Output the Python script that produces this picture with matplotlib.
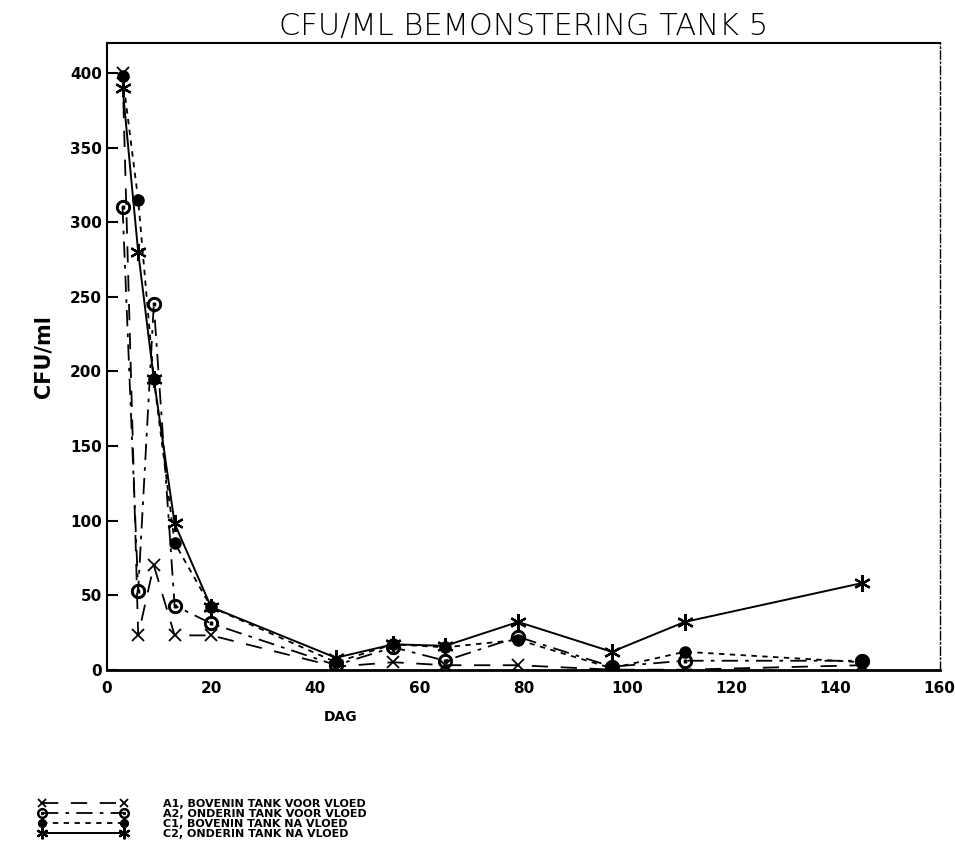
import matplotlib
matplotlib.use("Agg")
import matplotlib.pyplot as plt

# sampling days (DAG)
days = [3, 6, 9, 13, 20, 44, 55, 65, 79, 97, 111, 145]

# CFU/ml per sampling point
a1 = [400, 23, 70, 23, 23, 2, 5, 3, 3, 0, 0, 3]
a2 = [310, 53, 245, 43, 31, 3, 15, 6, 22, 2, 6, 6]
c1 = [398, 315, 195, 85, 42, 5, 17, 15, 20, 1, 12, 5]
c2 = [390, 280, 195, 98, 42, 8, 17, 16, 32, 12, 32, 58]

labels = ["A1, BOVENIN TANK VOOR VLOED",
          "A2, ONDERIN TANK VOOR VLOED",
          "C1, BOVENIN TANK NA VLOED",
          "C2, ONDERIN TANK NA VLOED"]

fig = plt.figure(figsize=(9.55, 8.63), dpi=100)
ax = fig.add_axes([0.112, 0.224, 0.872, 0.726])

ax.plot(days, a1, color="black", lw=1.3, ls=(0, (9, 7)), marker="x", ms=9, mew=1.3, label=labels[0])
ax.plot(days, a2, color="black", lw=1.3, ls=(0, (9, 4, 2, 4)), marker="$\\odot$", ms=10, label=labels[1])
ax.plot(days, c1, color="black", lw=1.3, ls=(0, (3, 3)), marker="o", ms=8, mfc="black", label=labels[2])
ax.plot(days, c2, color="black", lw=1.4, ls="-", marker=(6, 2, 0), ms=12, mew=1.6, label=labels[3])

ax.set_xlim(0, 160)
ax.set_ylim(0, 420)
ax.set_xticks(range(0, 161, 20))
ax.set_yticks(range(0, 401, 50))
ax.tick_params(axis="y", direction="in", length=8, width=1.5, labelsize=11)
ax.tick_params(axis="x", length=0, labelsize=11, pad=8)
for t in ax.get_xticklabels() + ax.get_yticklabels():
    t.set_fontweight("bold")

ax.spines["left"].set_linewidth(1.5)
ax.spines["bottom"].set_linewidth(2)
ax.spines["top"].set_linewidth(1.5)
ax.spines["right"].set_linewidth(1)
ax.spines["right"].set_linestyle((0, (6, 2, 1, 2)))

ax.set_title("CFU/ML BEMONSTERING TANK 5", fontsize=22, pad=6, x=0.5, fontweight="light")
ax.set_ylabel("CFU/ml", fontsize=15, fontweight="bold", labelpad=12)
ax.set_xlabel("DAG", fontsize=10, fontweight="bold", labelpad=22)
ax.xaxis.set_label_coords(0.28, -0.065)

handles, lbls = ax.get_legend_handles_labels()
leg = fig.legend(handles, lbls, loc="upper left", bbox_to_anchor=(0.03, 0.086),
                 frameon=False, handlelength=8.0, numpoints=2, labelspacing=0.0,
                 handletextpad=3.2, prop={"size": 8, "weight": "bold"}, markerscale=0.7)

fig.savefig("out.png", dpi=100)
